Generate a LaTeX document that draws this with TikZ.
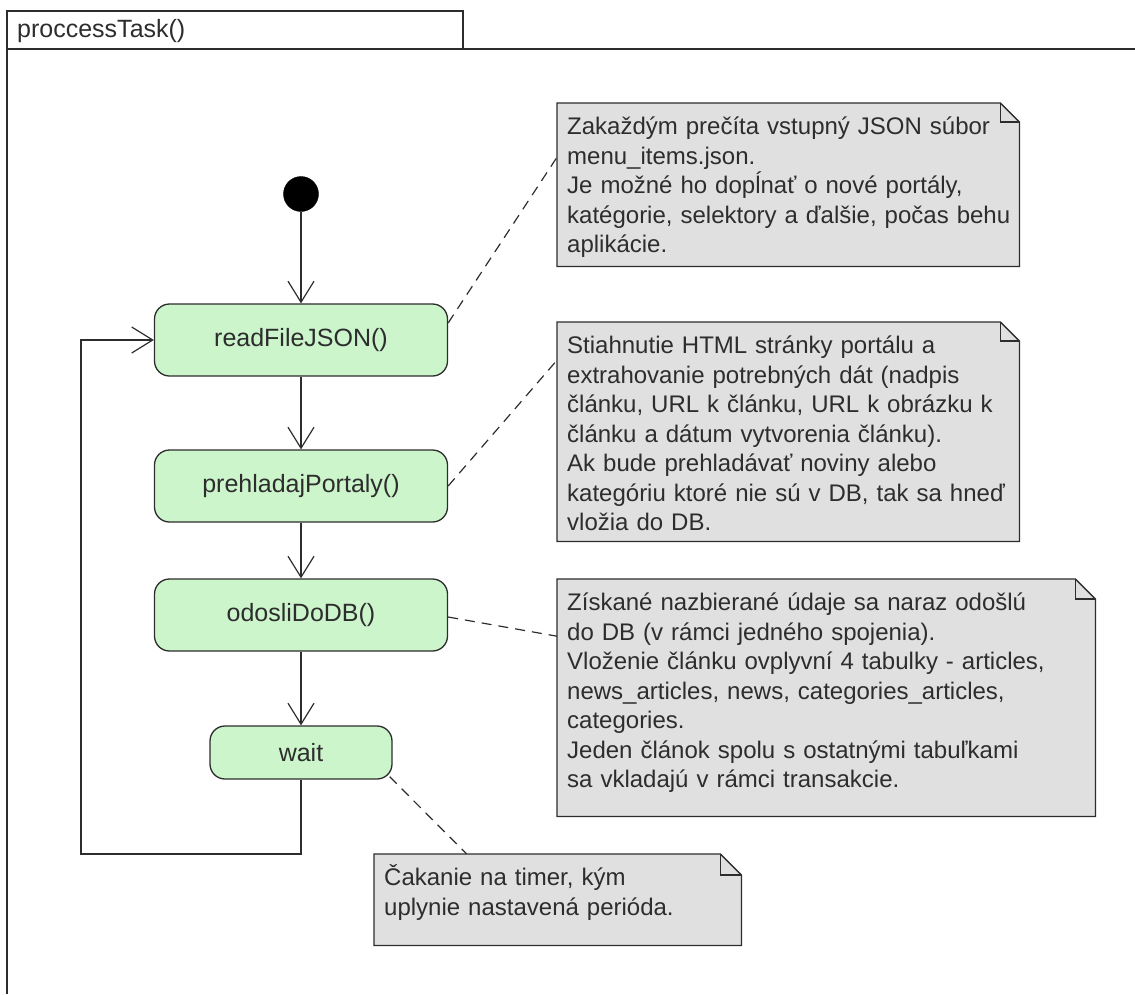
\documentclass[tikz,border=0pt]{standalone}
\usepackage{fontspec}
\setmainfont{Liberation Sans}
\usetikzlibrary{arrows.meta}
\definecolor{boxgreen}{RGB}{204,245,204}
\definecolor{notegray}{RGB}{224,224,224}
\definecolor{ink}{RGB}{45,45,45}
\newcommand{\fl}{\rule{0pt}{23pt}}
\begin{document}
\begin{tikzpicture}[x=1pt,y=-1pt,
  every node/.style={font=\fontsize{24}{29.5}\selectfont, text=ink},
  bigtext/.style={font=\fontsize{25}{29.5}\selectfont},
  action/.style={draw=ink, line width=1.3pt, fill=boxgreen, rounded corners=15pt,
    minimum width=293pt, minimum height=72pt, inner sep=0pt, bigtext},
  initial/.style={circle, fill=black, draw=black, minimum size=35pt, inner sep=0pt},
  notebox/.style={minimum width=#1, anchor=north west, inner sep=0pt},
  notetext/.style={anchor=north west, inner sep=0pt, align=left, text width=540pt},
  flow/.style={draw=ink, line width=1.2pt, -{Straight Barb[length=21pt,width=26pt,line width=1.2pt]}},
  plain/.style={draw=ink, line width=1.2pt},
  anchorline/.style={draw=ink, line width=1.2pt, dash pattern=on 10pt off 7pt},
  notefill/.style={draw=ink, line width=1.3pt, fill=notegray},
]
\useasboundingbox (0,0) rectangle (1135,994);

% frame
\draw[plain, line width=1.4pt] (7,994) -- (7,11) -- (463,11) -- (463,49);
\draw[plain, line width=1.4pt] (7,49) -- (1135,49);
\node[anchor=base west, inner sep=0pt, bigtext] (title) at (17,37) {proccessTask()};

% actions
\node[initial] (init) at (301,194) {};
\node[action] (read) at (301,340) {readFileJSON()};
\node[action] (prehl) at (301,486) {prehladajPortaly()};
\node[action] (odosli) at (301,615) {odosliDoDB()};
\node[action, minimum width=182pt, minimum height=53pt] (wait) at (301,752.5) {wait};

% flows
\draw[flow] (init) -- (read);
\draw[flow] (read) -- (prehl);
\draw[flow] (prehl) -- (odosli);
\draw[flow] (odosli) -- (wait);
\coordinate (lb) at (81,854);
\draw[flow] (wait.south) |- (lb) |- (read.west);

% notes (shapes)
\node[notebox=462pt, minimum height=163pt] (n1) at (557,103) {};
\node[notebox=462pt, minimum height=219pt] (n2) at (557,322) {};
\node[notebox=538pt, minimum height=237pt] (n3) at (557,579) {};
\node[notebox=367pt, minimum height=91pt] (n4) at (374,854) {};
\foreach \n/\f in {n1/19pt,n2/19pt,n3/20pt,n4/21pt}{
  \draw[notefill] (\n.north west) -- ([xshift=-\f]\n.north east) -- ([yshift=-\f]\n.north east)
     -- (\n.south east) -- (\n.south west) -- cycle;
  \draw[plain, line width=1.1pt] ([xshift=-\f]\n.north east) -- ([xshift=-\f,yshift=-\f]\n.north east) -- ([yshift=-\f]\n.north east);
}

% note texts
\node[notetext] (n1t) at ([shift={(10pt,-8.5pt)}]n1.north west) {\fl Zakaždým prečíta vstupný JSON súbor\\menu\_items.json.\\Je možné ho dopĺnať o nové portály,\\katégorie, selektory a ďalšie, počas behu\\aplikácie.};
\node[notetext] (n2t) at ([shift={(10pt,-8.5pt)}]n2.north west) {\fl Stiahnutie HTML stránky portálu a\\extrahovanie potrebných dát (nadpis\\článku, URL k článku, URL k obrázku k\\článku a dátum vytvorenia článku).\\Ak bude prehladávať noviny alebo\\kategóriu ktoré nie sú v DB, tak sa hneď\\vložia do DB.};
\node[notetext] (n3t) at ([shift={(10pt,-8.5pt)}]n3.north west) {\fl Získané nazbierané údaje sa naraz odošlú\\do DB (v rámci jedného spojenia).\\Vloženie článku ovplyvní 4 tabulky - articles,\\news\_articles, news, categories\_articles,\\categories.\\Jeden článok spolu s ostatnými tabuľkami\\sa vkladajú v rámci transakcie.};
\node[notetext] (n4t) at ([shift={(10pt,-8.5pt)}]n4.north west) {\fl Čakanie na timer, kým\\uplynie nastavená perióda.};

% note anchors
\draw[anchorline] ([yshift=17pt]read.east) -- ([yshift=27.5pt]n1.west);
\draw[anchorline] (prehl.east) -- ([yshift=71.5pt]n2.west);
\draw[anchorline] ([yshift=-2pt]odosli.east) -- ([yshift=61.5pt]n3.west);
\draw[anchorline] ([xshift=-3pt,yshift=3pt]wait.south east) -- ([xshift=-91pt]n4.north);
\end{tikzpicture}
\end{document}
